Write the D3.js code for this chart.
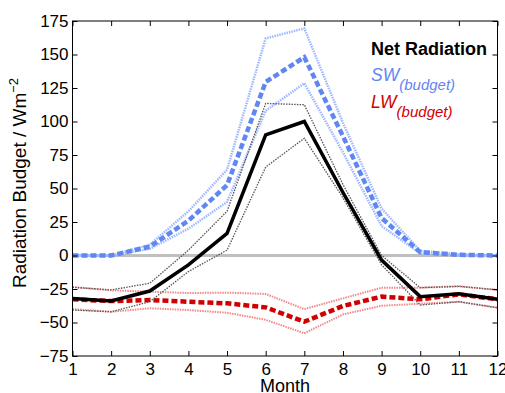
<!DOCTYPE html>
<html>
<head>
<meta charset="utf-8">
<script src="https://cdn.jsdelivr.net/npm/d3@7"></script>
<style>
  body { margin: 0; background: #fff; }
  svg { font-family: "Liberation Sans", Arial, sans-serif; }
</style>
</head>
<body>
<svg id="chart" width="505" height="393"></svg>
<script>
const months = [1, 2, 3, 4, 5, 6, 7, 8, 9, 10, 11, 12];
const yTicks = [-75, -50, -25, 0, 25, 50, 75, 100, 125, 150, 175];

const netMean = [-32, -34, -26.5, -7, 16.5, 90, 100, 47, -3.4, -30.7, -28.5, -32.7];
const netHi   = [-23.7, -25.7, -20.7, 4, 33, 113.5, 112.5, 53, 0, -24, -23, -25.7];
const netLo   = [-40.7, -42, -34.5, -12, 4, 66, 87.5, 43, -7, -37, -34.5, -39];

const swMean = [0, 0, 6.6, 26, 52.5, 129.5, 148, 89, 28, 2.5, 0.5, 0];
const swHi   = [0, 0, 8, 33, 64, 162, 169.5, 99, 35, 3.5, 1, 0];
const swLo   = [0, 0, 5, 20, 40, 108, 128.5, 77, 22, 1.5, 0.3, 0];

const lwMean = [-32.7, -34, -33.2, -34.5, -35.7, -38.7, -49.4, -37.7, -30.7, -32.7, -29, -32.7];
const lwHi   = [-23.5, -26, -27, -28, -27.7, -28.7, -40, -32, -24, -24, -23, -25.7];
const lwLo   = [-40, -42, -39.4, -40.7, -42.7, -48, -58, -44, -37.5, -36, -34.5, -39];

const width = 505, height = 393;
const margin = { left: 72.5, right: 7.5, top: 21, bottom: 37 };

const svg = d3.select("#chart");

const x = d3.scaleLinear()
  .domain([1, 12])
  .range([margin.left, width - margin.right]);

const y = d3.scaleLinear()
  .domain([-75, 175])
  .range([height - margin.bottom, margin.top]);

const line = d3.line()
  .x((d, i) => x(months[i]))
  .y(d => y(d));

// zero line
svg.append("line")
  .attr("x1", x(1)).attr("x2", x(12))
  .attr("y1", y(0)).attr("y2", y(0))
  .attr("stroke", "#c0c0c0")
  .attr("stroke-width", 3);

function drawLine(data, color, w, dash) {
  svg.append("path")
    .datum(data)
    .attr("fill", "none")
    .attr("stroke", color)
    .attr("stroke-width", w)
    .attr("stroke-dasharray", dash)
    .attr("stroke-linejoin", "miter")
    .attr("d", line);
}

/* ========== SW ========== */
drawLine(swHi, "#9fb8ff", 2.5, "1.5,1");
drawLine(swLo, "#9fb8ff", 2.5, "1.5,1");
drawLine(swMean, "#5f86f2", 4.5, "6,3");

/* ========== LW ========== */
drawLine(lwHi, "#f08a8a", 2, "1.5,1");
drawLine(lwLo, "#f08a8a", 2, "1.5,1");
drawLine(lwMean, "#d00000", 4.5, "6,3");

/* ========== NET ========== */
drawLine(netHi, "#555", 1.3, "1.5,1.2");
drawLine(netLo, "#555", 1.3, "1.5,1.2");
drawLine(netMean, "#000", 3.5, null);

/* ========== AXES ========== */
const xAxis = d3.axisBottom(x).tickValues(months).tickFormat(d3.format("d"))
  .tickSizeInner(-5).tickSizeOuter(0).tickPadding(7);
const yAxis = d3.axisLeft(y).tickValues(yTicks)
  .tickSizeInner(-5).tickSizeOuter(0).tickPadding(4);
const xTop = d3.axisTop(x).tickValues(months).tickSizeInner(-5).tickSizeOuter(0).tickFormat("");
const yRight = d3.axisRight(y).tickValues(yTicks).tickSizeInner(-5).tickSizeOuter(0).tickFormat("");

function styleAxis(g) {
  g.select(".domain").remove();
  g.selectAll(".tick line").attr("stroke", "#000");
  g.selectAll("text").attr("font-size", 17).attr("fill", "#000")
    .attr("font-family", "Liberation Sans, Arial, sans-serif");
}

svg.append("g").attr("transform", `translate(0,${height - margin.bottom})`).call(xAxis).call(styleAxis);
svg.append("g").attr("transform", `translate(${margin.left},0)`).call(yAxis).call(styleAxis);
svg.append("g").attr("transform", `translate(0,${margin.top})`).call(xTop).call(styleAxis);
svg.append("g").attr("transform", `translate(${width - margin.right},0)`).call(yRight).call(styleAxis);

svg.append("rect")
  .attr("x", margin.left).attr("y", margin.top)
  .attr("width", width - margin.left - margin.right)
  .attr("height", height - margin.top - margin.bottom)
  .attr("fill", "none").attr("stroke", "#000").attr("stroke-width", 1);

// axis labels
svg.append("text")
  .attr("x", (margin.left + width - margin.right) / 2)
  .attr("y", 392)
  .attr("text-anchor", "middle")
  .attr("font-size", 18)
  .text("Month");

const yl = svg.append("text")
  .attr("transform", `translate(26,183) rotate(-90)`)
  .attr("text-anchor", "middle")
  .attr("font-size", 19);
yl.append("tspan").text("Radiation Budget / Wm");
yl.append("tspan").attr("font-size", 13).attr("dy", -8).text("−2");

/* ========== LEGEND ========== */
svg.append("text")
  .attr("x", 371).attr("y", 54.5)
  .attr("font-size", 18).attr("font-weight", "bold")
  .text("Net Radiation");

const sw = svg.append("text")
  .attr("x", 371).attr("y", 80.5)
  .attr("font-size", 17.5).attr("font-style", "italic").attr("fill", "#5f86f2");
sw.append("tspan").text("SW");
sw.append("tspan").attr("font-size", 15).attr("dy", 9.5).text("(budget)");

const lw = svg.append("text")
  .attr("x", 371).attr("y", 107.5)
  .attr("font-size", 17.5).attr("font-style", "italic").attr("fill", "#d00000");
lw.append("tspan").text("LW");
lw.append("tspan").attr("font-size", 15).attr("dy", 9.5).text("(budget)");
</script>
</body>
</html>
